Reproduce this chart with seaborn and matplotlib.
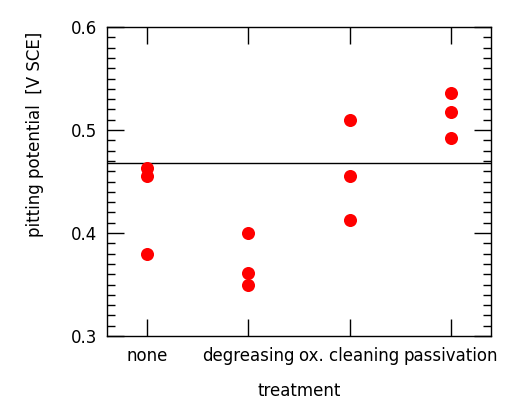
import matplotlib
matplotlib.use("Agg")
import matplotlib.pyplot as plt
from matplotlib.ticker import MultipleLocator, FormatStrFormatter
import seaborn as sns
import pandas as pd

categories = ["none", "degreasing", "ox. cleaning", "passivation"]
none_vals = [0.463, 0.455, 0.380]
degreasing_vals = [0.400, 0.361, 0.350]
oxcleaning_vals = [0.510, 0.455, 0.413]
passivation_vals = [0.536, 0.517, 0.492]
reference_level = 0.468

values = [none_vals, degreasing_vals, oxcleaning_vals, passivation_vals]
df = pd.DataFrame({
    "treatment": [c for c, v in zip(categories, values) for _ in v],
    "potential": [x for v in values for x in v],
})

sns.set_style("white")
plt.rcParams["font.family"] = ["DejaVu Sans"]
plt.rcParams["text.color"] = "black"
plt.rcParams["axes.labelcolor"] = "black"

fig = plt.figure(figsize=(5.10, 4.03), dpi=100)
ax = fig.add_axes([107/510, 67/403, 384/510, 309/403])

sns.stripplot(data=df, x="treatment", y="potential", order=categories,
              jitter=False, color="#ff0000", s=9.4, linewidth=0, ax=ax, zorder=3)
ax.axhline(reference_level, color="black", lw=1.0, zorder=2)

ax.set_xlim(-0.4, 3.4)
ax.set_ylim(0.3, 0.6)
ax.yaxis.set_major_locator(MultipleLocator(0.1))
ax.yaxis.set_minor_locator(MultipleLocator(0.01))
ax.yaxis.set_major_formatter(FormatStrFormatter("%.1f"))

for s in ax.spines.values():
    s.set_visible(True)
    s.set_color("black")
    s.set_linewidth(1.0)

ax.tick_params(axis="both", which="major", direction="in", length=12, width=1.0,
               top=True, right=True, bottom=True, left=True, labelsize=12,
               colors="black")
ax.tick_params(axis="y", which="minor", direction="in", length=6, width=1.0,
               left=True, right=True, colors="black")
ax.tick_params(axis="y", which="major", pad=7)
ax.tick_params(axis="x", which="major", pad=8)

ax.set_xlabel("treatment", fontsize=12, labelpad=12, color="black")
ax.set_ylabel("pitting potential  [V SCE]", fontsize=12, color="black")
ax.yaxis.set_label_coords(-0.165, 0.654)

fig.savefig("out.png", dpi=100, facecolor="white")
